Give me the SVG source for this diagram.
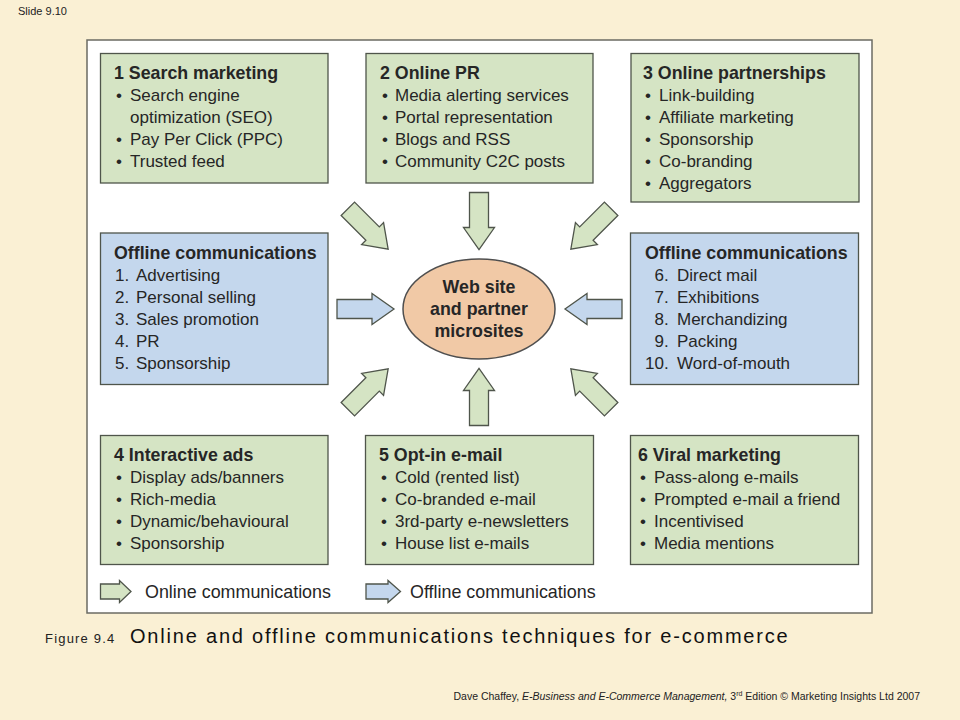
<svg xmlns="http://www.w3.org/2000/svg" xmlns:xlink="http://www.w3.org/1999/xlink" width="960" height="720" viewBox="0 0 960 720">
<style>
text{font-family:"Liberation Sans",Arial,Helvetica,sans-serif;fill:#262626}
.t{font-size:17.8px;font-weight:bold}
.i{font-size:17px}
.box{stroke:#555a52;stroke-width:1.5}
.g{fill:#d5e4c4;stroke:#4f554b;stroke-width:1.3;stroke-linejoin:miter}
.b{fill:#c4d7ed;stroke:#4f554b;stroke-width:1.3;stroke-linejoin:miter}
.sm{font-size:10.5px;fill:#222}
</style>
<defs>
<path id="arr" d="M-28.5,-9.5 L6.5,-9.5 L6.5,-15.5 L28.5,0 L6.5,15.5 L6.5,9.5 L-28.5,9.5 Z"/>
</defs>
<rect x="0" y="0" width="960" height="720" fill="#faf0d4"/>
<text x="18" y="15" class="sm" style="font-size:11px">Slide 9.10</text>
<rect x="87" y="40" width="785" height="573" fill="#ffffff" stroke="#6b6b63" stroke-width="1.5"/>

<g id="node-search">
<rect class="box g" x="100.5" y="53.5" width="227.5" height="129.5"/>
<text class="t" x="114" y="79">1 Search marketing</text>
<text class="i" x="116" y="101">•</text><text class="i" x="130" y="101">Search engine</text>
<text class="i" x="130" y="123">optimization (SEO)</text>
<text class="i" x="116" y="145">•</text><text class="i" x="130" y="145">Pay Per Click (PPC)</text>
<text class="i" x="116" y="167">•</text><text class="i" x="130" y="167">Trusted feed</text>
</g>

<g id="node-pr">
<rect class="box g" x="366" y="53.5" width="227" height="129.5"/>
<text class="t" x="380" y="79">2 Online PR</text>
<text class="i" x="382" y="101">•</text><text class="i" x="395" y="101">Media alerting services</text>
<text class="i" x="382" y="123">•</text><text class="i" x="395" y="123">Portal representation</text>
<text class="i" x="382" y="145">•</text><text class="i" x="395" y="145">Blogs and RSS</text>
<text class="i" x="382" y="167">•</text><text class="i" x="395" y="167">Community C2C posts</text>
</g>

<g id="node-partnerships">
<rect class="box g" x="631" y="53.5" width="228" height="148.5"/>
<text class="t" x="643" y="79">3 Online partnerships</text>
<text class="i" x="645" y="101">•</text><text class="i" x="659" y="101">Link-building</text>
<text class="i" x="645" y="123">•</text><text class="i" x="659" y="123">Affiliate marketing</text>
<text class="i" x="645" y="145">•</text><text class="i" x="659" y="145">Sponsorship</text>
<text class="i" x="645" y="167">•</text><text class="i" x="659" y="167">Co-branding</text>
<text class="i" x="645" y="189">•</text><text class="i" x="659" y="189">Aggregators</text>
</g>

<g id="node-offline-left">
<rect class="box b" x="100.5" y="233" width="227.5" height="151.5"/>
<text class="t" x="114" y="259">Offline communications</text>
<text class="i" x="115" y="281">1.</text><text class="i" x="136" y="281">Advertising</text>
<text class="i" x="115" y="303">2.</text><text class="i" x="136" y="303">Personal selling</text>
<text class="i" x="115" y="325">3.</text><text class="i" x="136" y="325">Sales promotion</text>
<text class="i" x="115" y="347">4.</text><text class="i" x="136" y="347">PR</text>
<text class="i" x="115" y="369">5.</text><text class="i" x="136" y="369">Sponsorship</text>
</g>

<g id="node-offline-right">
<rect class="box b" x="630.5" y="233" width="228" height="151.5"/>
<text class="t" x="645" y="259">Offline communications</text>
<text class="i" x="654.5" y="281">6.</text><text class="i" x="677" y="281">Direct mail</text>
<text class="i" x="654.5" y="303">7.</text><text class="i" x="677" y="303">Exhibitions</text>
<text class="i" x="654.5" y="325">8.</text><text class="i" x="677" y="325">Merchandizing</text>
<text class="i" x="654.5" y="347">9.</text><text class="i" x="677" y="347">Packing</text>
<text class="i" x="645" y="369">10.</text><text class="i" x="677" y="369">Word-of-mouth</text>
</g>

<g id="node-website">
<ellipse cx="479" cy="309" rx="76" ry="50" fill="#f1c9a6" stroke="#4f4f4f" stroke-width="1.5"/>
<text class="t" x="479" y="293" text-anchor="middle">Web site</text>
<text class="t" x="479" y="315" text-anchor="middle">and partner</text>
<text class="t" x="479" y="337" text-anchor="middle">microsites</text>
</g>

<g id="node-ads">
<rect class="box g" x="100.5" y="435.5" width="227.5" height="129"/>
<text class="t" x="114" y="460.5">4 Interactive ads</text>
<text class="i" x="116" y="482.5">•</text><text class="i" x="130" y="482.5">Display ads/banners</text>
<text class="i" x="116" y="504.5">•</text><text class="i" x="130" y="504.5">Rich-media</text>
<text class="i" x="116" y="526.5">•</text><text class="i" x="130" y="526.5">Dynamic/behavioural</text>
<text class="i" x="116" y="548.5">•</text><text class="i" x="130" y="548.5">Sponsorship</text>
</g>

<g id="node-optin">
<rect class="box g" x="365.5" y="435.5" width="228" height="129"/>
<text class="t" x="379" y="460.5">5 Opt-in e-mail</text>
<text class="i" x="381" y="482.5">•</text><text class="i" x="395" y="482.5">Cold (rented list)</text>
<text class="i" x="381" y="504.5">•</text><text class="i" x="395" y="504.5">Co-branded e-mail</text>
<text class="i" x="381" y="526.5">•</text><text class="i" x="395" y="526.5">3rd-party e-newsletters</text>
<text class="i" x="381" y="548.5">•</text><text class="i" x="395" y="548.5">House list e-mails</text>
</g>

<g id="node-viral">
<rect class="box g" x="630.5" y="435.5" width="228" height="129"/>
<text class="t" x="638" y="460.5">6 Viral marketing</text>
<text class="i" x="640" y="482.5">•</text><text class="i" x="654" y="482.5">Pass-along e-mails</text>
<text class="i" x="640" y="504.5">•</text><text class="i" x="654" y="504.5">Prompted e-mail a friend</text>
<text class="i" x="640" y="526.5">•</text><text class="i" x="654" y="526.5">Incentivised</text>
<text class="i" x="640" y="548.5">•</text><text class="i" x="654" y="548.5">Media mentions</text>
</g>

<g id="connectors">
<use xlink:href="#arr" class="g" transform="translate(368,229) rotate(45)"/>
<use xlink:href="#arr" class="g" transform="translate(479,221) rotate(90)"/>
<use xlink:href="#arr" class="g" transform="translate(591,229) rotate(135)"/>
<use xlink:href="#arr" class="b" transform="translate(365.5,309)"/>
<use xlink:href="#arr" class="b" transform="translate(593.5,309) rotate(180)"/>
<use xlink:href="#arr" class="g" transform="translate(368,389) rotate(-45)"/>
<use xlink:href="#arr" class="g" transform="translate(479,397) rotate(-90)"/>
<use xlink:href="#arr" class="g" transform="translate(591,389) rotate(-135)"/>
</g>

<g id="legend">
<path class="g" d="M100.5,584 H119.5 V580.5 L131,591.5 L119.5,602.5 V599 H100.5 Z"/>
<text x="145" y="597.5" style="font-size:17.9px">Online communications</text>
<path class="b" d="M366,584 H388 V580.5 L400.5,591.5 L388,602.5 V599 H366 Z"/>
<text x="410" y="597.5" style="font-size:17.9px">Offline communications</text>
</g>

<text x="45" y="643" style="font-size:13px;letter-spacing:1.2px;fill:#222">Figure 9.4</text>
<text x="130" y="643" style="font-size:20px;letter-spacing:1.8px;fill:#111">Online and offline communications techniques for e-commerce</text>
<text x="920" y="700" text-anchor="end" class="sm">Dave Chaffey, <tspan font-style="italic">E-Business and E-Commerce Management,</tspan> 3<tspan dy="-4" font-size="7">rd</tspan><tspan dy="4"> Edition © Marketing Insights Ltd 2007</tspan></text>
</svg>
